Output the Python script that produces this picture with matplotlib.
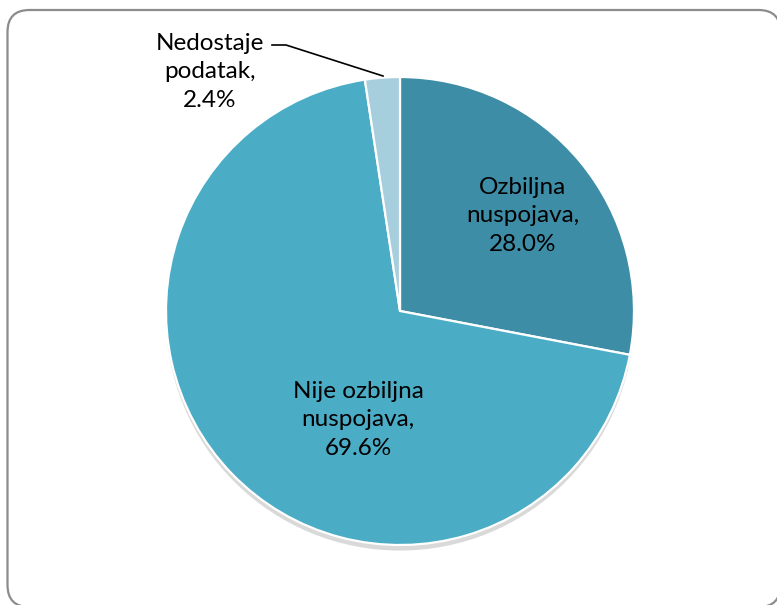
import matplotlib
matplotlib.use("Agg")
import matplotlib.pyplot as plt
from matplotlib.patches import FancyBboxPatch, Circle
import matplotlib.patheffects as pe

labels = ["Ozbiljna\nnuspojava,\n28.0%", "Nije ozbiljna\nnuspojava,\n69.6%", "Nedostaje\npodatak,\n2.4%"]
values = [28.0, 69.6, 2.4]
colors = ["#3E8DA6", "#4BACC6", "#A7CEDC"]

W, H = 777, 605
fig = plt.figure(figsize=(W / 100, H / 100), dpi=100)
ax = fig.add_axes([0, 0, 1, 1])

# rounded chart frame, slightly cut off on the right and bottom
frame = FancyBboxPatch((7.5, -2), 773, H - 10 + 2,
                       boxstyle="round,pad=0,rounding_size=22",
                       fc="white", ec="#8c8c8c", lw=1.6, zorder=0)
ax.add_patch(frame)

cx, cy, r = 400, 294, 234

# soft shadow under the pie
shadow = Circle((cx, cy), r, fc="white", ec="none", zorder=1,
                path_effects=[pe.SimplePatchShadow(offset=(0, -4), alpha=0.22, shadow_rgbFace="#555555"),
                              pe.Normal()])
ax.add_patch(shadow)

wedges, _ = ax.pie(values, colors=colors, startangle=90, counterclock=False,
                   center=(cx, cy), radius=r, frame=True,
                   wedgeprops=dict(edgecolor="white", linewidth=1.6, zorder=2))
ax.set_xlim(0, W)
ax.set_ylim(0, H)
ax.set_aspect("equal")
ax.axis("off")

font = dict(family=["Lato", "DejaVu Sans"], fontsize=17.5, color="black",
            ha="center", va="center", linespacing=1.42)
ax.text(523, H - 216, labels[0], zorder=5, **font)
ax.text(358, H - 420, labels[1], zorder=5, **font)
ax.text(210, H - 72, labels[2], zorder=5, **font)

# leader line for the small slice
ax.plot([272, 286, 383], [H - 45, H - 45, H - 76], color="black", lw=1.2, zorder=5)

fig.savefig("out.png", dpi=100)
